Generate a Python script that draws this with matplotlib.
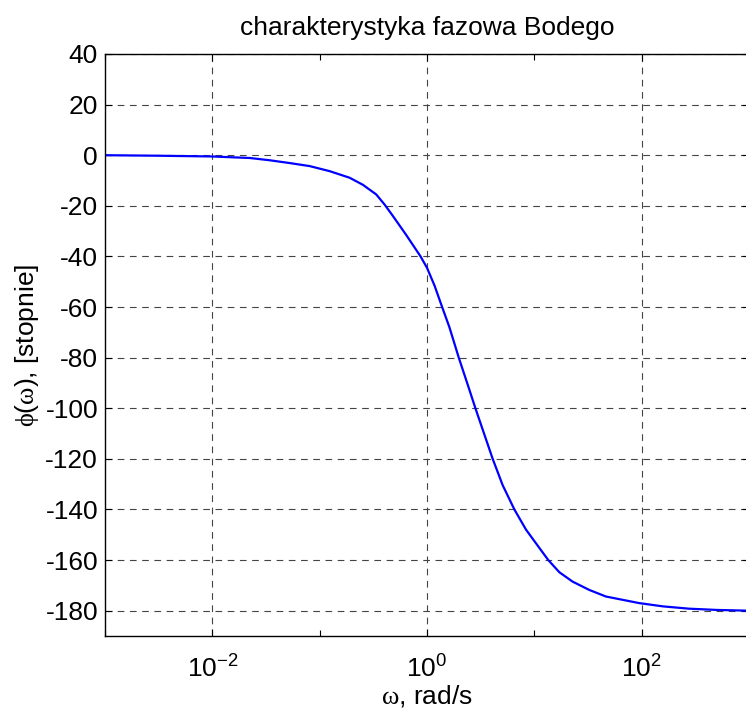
import numpy as np
import matplotlib
matplotlib.use("Agg")
import matplotlib.pyplot as plt
from matplotlib.ticker import FixedLocator, FixedFormatter, NullFormatter

# phase curve (log10 of omega, phase in degrees)
log_w = [-3.0, -2.5, -2.0, -1.65, -1.465, -1.279, -1.093, -0.907, -0.721, -0.597,
         -0.473, -0.395, -0.318, -0.194, -0.06, 0.0, 0.07, 0.141, 0.209, 0.296,
         0.395, 0.451, 0.612, 0.705, 0.814, 0.923, 1.047, 1.13, 1.233, 1.356, 1.512,
         1.667, 1.977, 2.2, 2.44, 2.7, 3.0]
phase = [0.0, -0.2, -0.5, -1.1, -2.0, -3.1, -4.3, -6.3, -8.9, -11.7,
         -15.5, -19.5, -24.0, -31.5, -40.0, -44.5, -51.5, -60.0, -68.0, -80.0,
         -92.7, -100.0, -120.0, -130.4, -140.0, -148.0, -155.2, -160.0, -164.8, -168.5, -171.8,
         -174.4, -177.0, -178.3, -179.2, -179.7, -180.0]

x_major = [1e-2, 1e0, 1e2]
x_major_labels = [r"$\mathsf{10^{-2}}$", r"$\mathsf{10^{0}}$", r"$\mathsf{10^{2}}$"]
x_minor = [1e-3, 1e-1, 1e1, 1e3]
y_ticks = list(range(-180, 41, 20))

title = "charakterystyka fazowa Bodego"
xlabel = r"$\mathrm{ω}$, rad/s"
ylabel = r"$\mathrm{ϕ}$($\mathrm{ω}$), [stopnie]"

plt.rcParams["font.family"] = ["Liberation Sans", "DejaVu Sans"]
plt.rcParams["mathtext.fontset"] = "custom"
plt.rcParams["mathtext.rm"] = "Liberation Serif"
plt.rcParams["mathtext.sf"] = "Liberation Sans"
plt.rcParams["axes.unicode_minus"] = False

fs = 19

fig = plt.figure(figsize=(7.46, 7.18), dpi=100)
ax = fig.add_axes([105 / 746, 1 - 636 / 718, 644 / 746, 582 / 718])

w = 10 ** np.array(log_w)
ax.plot(w, phase, color="#0000ff", lw=1.6)

ax.set_xscale("log")
ax.set_xlim(1e-3, 1e3)
ax.set_ylim(-190, 40)

ax.xaxis.set_major_locator(FixedLocator(x_major))
ax.xaxis.set_major_formatter(FixedFormatter(x_major_labels))
ax.xaxis.set_minor_locator(FixedLocator(x_minor))
ax.xaxis.set_minor_formatter(NullFormatter())
ax.set_yticks(y_ticks)

ax.tick_params(which="both", direction="in", top=True, right=True,
               labelsize=fs, width=0.8, color="black")
ax.tick_params(which="major", length=5)
ax.tick_params(which="minor", length=4)
ax.tick_params(axis="x", pad=14)
ax.tick_params(axis="y", pad=5)

ax.grid(True, which="major", linestyle=(0, (6, 5)), color="#444444", lw=0.8)

for s in ax.spines.values():
    s.set_linewidth(1.0)

ax.set_title(title, fontsize=fs, pad=14)
ax.set_xlabel(xlabel, fontsize=fs, labelpad=0)
ax.set_ylabel(ylabel, fontsize=fs, labelpad=3)

fig.savefig("out.png", dpi=100)
